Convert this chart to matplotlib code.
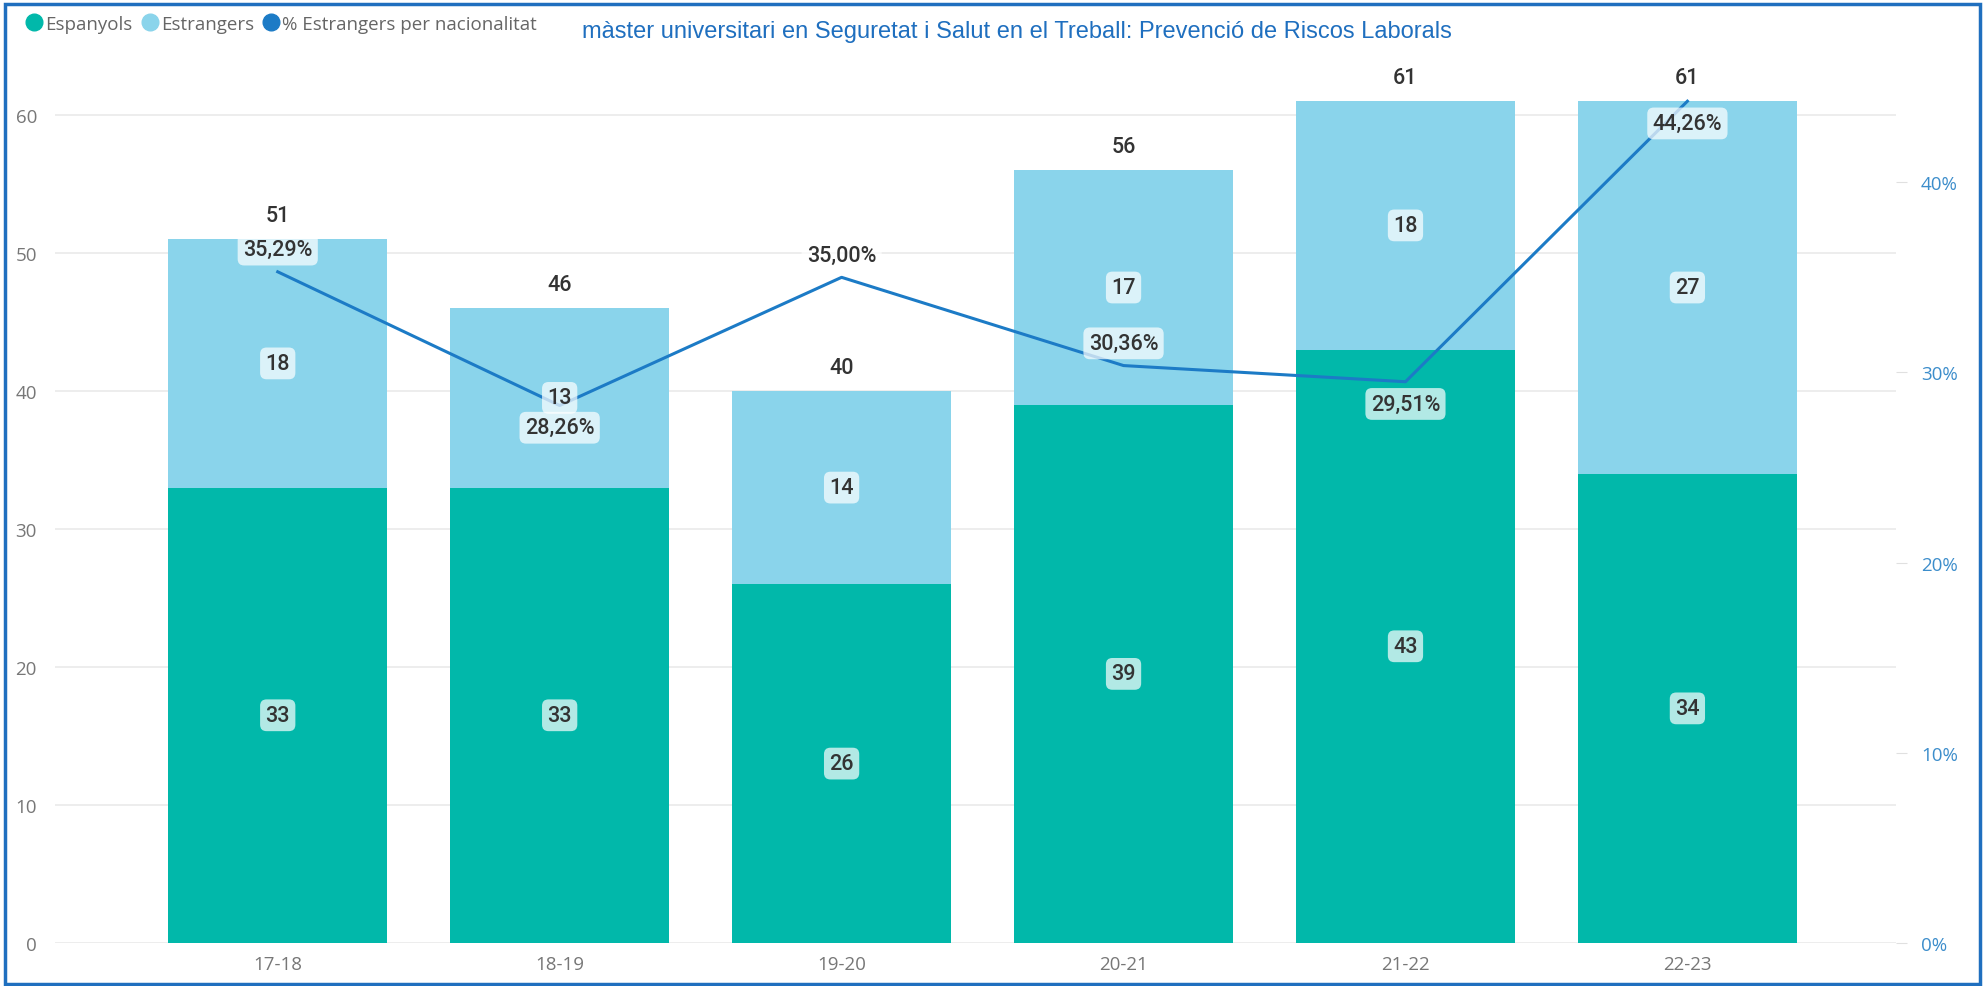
import numpy as np
import matplotlib
matplotlib.use("Agg")
import matplotlib.pyplot as plt
from matplotlib.lines import Line2D
from matplotlib.patches import Rectangle
from matplotlib.ticker import FuncFormatter

# data
cursos = ["17-18", "18-19", "19-20", "20-21", "21-22", "22-23"]
espanyols = [33, 33, 26, 39, 43, 34]
estrangers = [18, 13, 14, 17, 18, 27]
pct_estrangers = [35.29, 28.26, 35.00, 30.36, 29.51, 44.26]
pct_label_side = ["above", "below", "above", "above", "below", "below"]

titol = "màster universitari en Seguretat i Salut en el Treball: Prevenció de Riscos Laborals"

c_esp = "#01B8AA"
c_est = "#8AD4EB"
c_line = "#1C7BC6"
c_border = "#1F6FBF"
label_font = "Roboto"
tick_font = "Open Sans"

fig = plt.figure(figsize=(19.86, 9.87), dpi=100)
ax = fig.add_axes([0.0277, 0.0436, 0.9270, 0.8808])

x = np.arange(len(cursos))
esp = np.array(espanyols)
est = np.array(estrangers)
total = esp + est
pct = np.array(pct_estrangers)

ax.bar(x, esp, width=0.777, color=c_esp, zorder=2)
ax.bar(x, est, bottom=esp, width=0.777, color=c_est, zorder=2)

ymax = 63
ax.set_ylim(0, ymax)
ax.set_xlim(-0.79, len(cursos) - 1 + 0.74)
ax.set_yticks(range(0, 61, 10))
ax.set_xticks(x)
ax.set_xticklabels(cursos)
ax.grid(axis="y", color="#EAEAEA", lw=1.2, zorder=0)
ax.set_axisbelow(True)
for s in ax.spines.values():
    s.set_visible(False)
ax.tick_params(axis="both", length=0, labelsize=13.5, labelcolor="#777777")
ax.tick_params(axis="x", pad=9)
ax.tick_params(axis="y", pad=13)
for lab in ax.get_xticklabels() + ax.get_yticklabels():
    lab.set_family(tick_font)

# secondary axis for the percentage line
ax2 = ax.twinx()
ratio = pct[-1] / 100 / total[-1]
ax2.set_ylim(0, ymax * ratio)
ax2.set_yticks([0, 0.1, 0.2, 0.3, 0.4])
ax2.yaxis.set_major_formatter(FuncFormatter(lambda v, p: f"{v * 100:.0f}%"))
for s in ax2.spines.values():
    s.set_visible(False)
ax2.tick_params(axis="y", length=8, color="#E0E0E0", labelsize=13.5,
                labelcolor="#3C8DCB", pad=10)
for lab in ax2.get_yticklabels():
    lab.set_family(tick_font)

ax2.plot(x, pct / 100, color=c_line, lw=2.2, zorder=3)

box = dict(boxstyle="round,pad=0.25,rounding_size=0.3", fc="white",
           ec="none", alpha=0.7)
lab_kw = dict(ha="center", va="center", fontsize=15.5, color="#333333",
              family=label_font, fontweight="medium")

# labels inside the segments
for xi, e, f in zip(x, esp, est):
    ax2.text(xi, e / 2, str(e), transform=ax.transData, bbox=box, zorder=5,
             **lab_kw)
    ax2.text(xi, e + f / 2, str(f), transform=ax.transData, bbox=box,
             zorder=5, **lab_kw)

# totals above the bars
for xi, t in zip(x, total):
    ax2.annotate(str(t), (xi, t), xycoords=ax.transData, xytext=(0, 17),
                 textcoords="offset points", zorder=5, **lab_kw)

# percentage labels
for xi, p, side in zip(x, pct, pct_label_side):
    dy = 16 if side == "above" else -16
    txt = f"{p:.2f}".replace(".", ",") + "%"
    ax2.annotate(txt, (xi, p / 100), xytext=(0, dy), textcoords="offset points",
                 bbox=box, zorder=6, **lab_kw)

# legend
handles = [
    Line2D([], [], marker="o", ls="", color=c_esp, markersize=12),
    Line2D([], [], marker="o", ls="", color=c_est, markersize=12),
    Line2D([], [], marker="o", ls="", color=c_line, markersize=12),
]
leg = fig.legend(handles, ["Espanyols", "Estrangers", "% Estrangers per nacionalitat"],
                 loc="center left", bbox_to_anchor=(0.004, 0.975), ncol=3,
                 frameon=False, handletextpad=0.1, columnspacing=0.4,
                 handlelength=1.0, prop={"family": tick_font, "size": 13.5})
for t in leg.get_texts():
    t.set_color("#666666")

fig.text(0.512, 0.968, titol, ha="center", va="center", color=c_border,
         fontsize=17, family="Liberation Sans")

fig.patches.append(Rectangle((0.0025, 0.002), 0.9945, 0.9925,
                             transform=fig.transFigure, fill=False,
                             ec=c_border, lw=2.5))

fig.savefig("out.png", dpi=100)
